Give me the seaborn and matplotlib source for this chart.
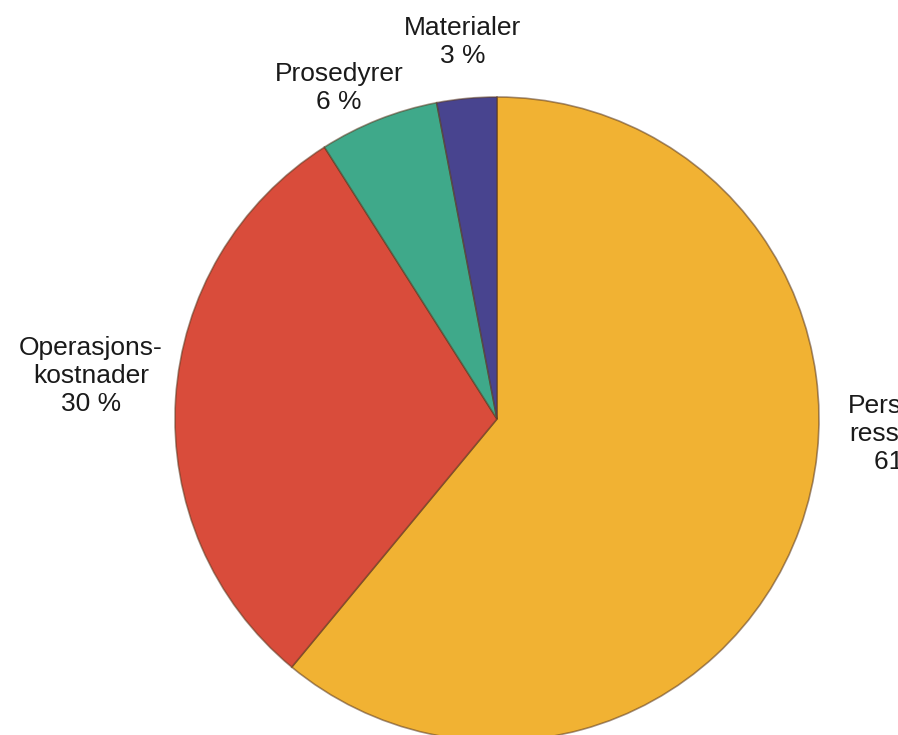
import matplotlib
matplotlib.use("Agg")
import matplotlib.pyplot as plt
import seaborn as sns

# Data
categories = ["Personal-\nressurser", "Operasjons-\nkostnader", "Prosedyrer", "Materialer"]
values = [61, 30, 6, 3]
pct_labels = ["61 %", "30 %", "6 %", "3 %"]
colors = ["#F1B233", "#D94C3B", "#3FA98A", "#48448F"]

sns.set_theme(style="white")
plt.rcParams["font.family"] = ["Liberation Sans", "DejaVu Sans"]

W, H = 898, 735
fig = plt.figure(figsize=(W / 100, H / 100), dpi=100)
ax = fig.add_axes([0, 0, 1, 1])
ax.set_xlim(0, W)
ax.set_ylim(0, H)
ax.set_aspect("equal")
ax.axis("off")

cx, cy, r = 497, H - 419, 322
wedges, _ = ax.pie(values, colors=colors, startangle=90, counterclock=False,
                   center=(cx, cy), radius=r,
                   wedgeprops=dict(edgecolor=(0.35, 0.22, 0.12, 0.55), linewidth=1.2))
ax.set_xlim(0, W)
ax.set_ylim(0, H)

# label positions (pixel coords, top origin)
label_pos = [(904, 434), (91, 376), (339, 88), (463, 42)]
for cat, pct, (x, y) in zip(categories, pct_labels, label_pos):
    ax.text(x, H - y, f"{cat}\n{pct}", ha="center", va="center",
            fontsize=19, color="#1a1a1a", linespacing=1.22, clip_on=False)

fig.savefig("out.png", dpi=100)
